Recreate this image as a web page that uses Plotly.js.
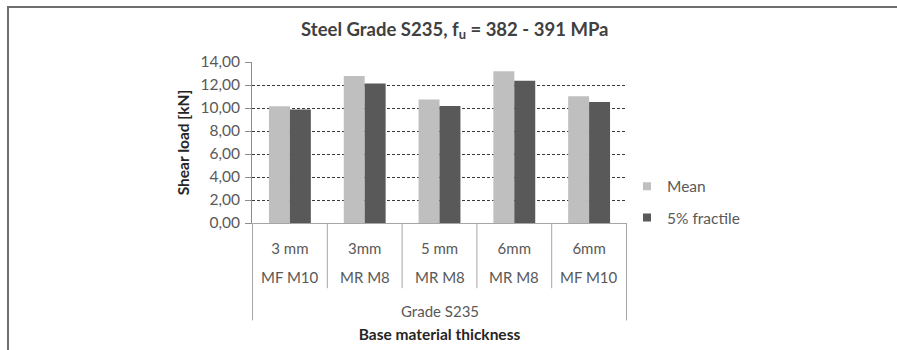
<!DOCTYPE html>
<html>
<head>
<meta charset="utf-8">
<script src="https://cdn.plot.ly/plotly-3.0.1.min.js"></script>
<style>
  html, body { margin: 0; padding: 0; background: #fff; }
  #wrap { position: relative; width: 897px; height: 350px; overflow: hidden; }
  #chart { width: 897px; height: 350px; }
  #frame { position: absolute; left: 7px; top: 6px; right: -4px; bottom: -4px;
           border-left: 2px solid #6e6e6e; border-top: 2px solid #6e6e6e; pointer-events: none; }
</style>
</head>
<body>
<div id="wrap">
  <div id="chart"></div>
  <div id="frame"></div>
</div>
<script>
const thickness = ["3 mm", "3mm", "5 mm", "6mm", "6mm"];
const fastener = ["MF M10", "MR M8", "MR M8", "MR M8", "MF M10"];
const groupLabel = "Grade S235";
const categories = thickness.map((t, i) => t + " " + fastener[i]);
const meanValues = [10.15, 12.78, 10.75, 13.19, 11.02];
const fractileValues = [9.86, 12.12, 10.17, 12.38, 10.52];
const seriesNames = ["Mean", "5% fractile"];
const seriesColors = ["#bfbfbf", "#595959"];
const yTicks = [0, 2, 4, 6, 8, 10, 12, 14];

const FONT = "Lato, 'Open Sans', sans-serif";
const TXT = "#595959";

const traces = [
  { type: "bar", name: seriesNames[0], x: categories, y: meanValues,
    marker: { color: seriesColors[0] }, showlegend: false },
  { type: "bar", name: seriesNames[1], x: categories, y: fractileValues,
    marker: { color: seriesColors[1] }, showlegend: false },
  // legend-only entries (small square keys, no visible points)
  { type: "scatter", mode: "markers", name: seriesNames[0], x: [categories[0]], y: [null],
    marker: { symbol: "square", size: 8, color: seriesColors[0] }, legendgroup: "a", showlegend: true },
  { type: "scatter", mode: "markers", name: seriesNames[1], x: [categories[0]], y: [null],
    marker: { symbol: "square", size: 8, color: seriesColors[1] }, legendgroup: "b", showlegend: true }
];

const shapes = [];
for (let i = 0; i <= categories.length; i++) {
  const outer = (i === 0 || i === categories.length);
  shapes.push({ type: "line", xref: "x", yref: "paper",
    x0: i - 0.5, x1: i - 0.5, y0: 0, y1: outer ? -0.605 : -0.405,
    line: { color: "#a6a6a6", width: 1 } });
}

const annotations = categories.map((c, i) => ({
  xref: "x", yref: "paper", x: c, y: 0, yshift: -54, yanchor: "middle",
  text: fastener[i], showarrow: false, font: { family: FONT, size: 15, color: TXT }
}));
annotations.push({ xref: "paper", yref: "paper", x: 0.5, y: 0, yshift: -88, yanchor: "middle",
  text: groupLabel, showarrow: false, font: { family: FONT, size: 15, color: TXT } });

const layout = {
  width: 897, height: 350,
  margin: { l: 252, r: 270, t: 62, b: 127 },
  paper_bgcolor: "#fff", plot_bgcolor: "#fff",
  font: { family: FONT, color: TXT, size: 15 },
  title: { text: "<b>Steel Grade S235, f<sub>u</sub> = 382 - 391 MPa</b>",
    xref: "container", yref: "container", x: 0.507, y: 0.917, xanchor: "center", yanchor: "middle",
    font: { family: FONT, size: 18.5, color: "#404040" } },
  barmode: "group", bargap: 0.44, bargroupgap: 0,
  xaxis: {
    type: "category", tickvals: categories, ticktext: thickness,
    showgrid: false, showline: true, linecolor: "#a6a6a6", linewidth: 1,
    ticks: "", ticklabelstandoff: 12, tickfont: { family: FONT, size: 15, color: TXT },
    title: { text: "<b>Base material thickness</b>", standoff: 73,
      font: { family: FONT, size: 15.5, color: "#262626" } },
    automargin: false, fixedrange: true
  },
  yaxis: {
    range: [0, 14], tickvals: yTicks, tickformat: ".2f",
    showgrid: true, gridcolor: "#3a3a3a", gridwidth: 1, griddash: "3px,2px",
    zeroline: false, showline: true, linecolor: "#8c8c8c", linewidth: 1,
    ticks: "outside", ticklen: 6, tickcolor: "#8c8c8c", ticklabelstandoff: 2,
    tickfont: { family: FONT, size: 15.5, color: TXT },
    title: { text: "<b>Shear load [kN]</b>", standoff: 6,
      font: { family: FONT, size: 15.5, color: "#262626" } },
    automargin: false, fixedrange: true
  },
  separators: ",.",
  showlegend: true,
  legend: { x: 1.0, xanchor: "left", y: 0.129, yanchor: "middle",
    traceorder: "grouped", tracegroupgap: 8,
    font: { family: FONT, size: 15.5, color: TXT }, bgcolor: "rgba(0,0,0,0)" },
  shapes: shapes,
  annotations: annotations
};

Plotly.newPlot("chart", traces, layout, { displayModeBar: false, staticPlot: true });
</script>
</body>
</html>
